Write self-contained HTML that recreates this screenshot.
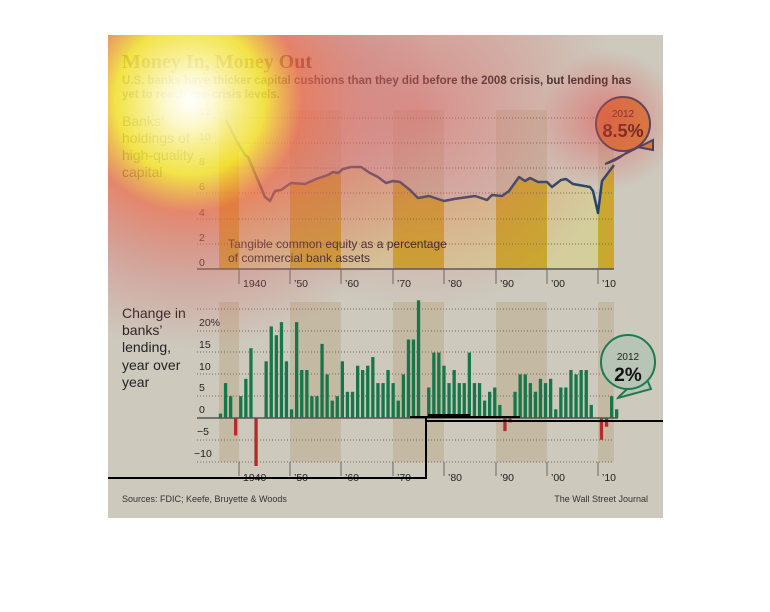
<!DOCTYPE html>
<html><head><meta charset="utf-8"><style>
html,body{margin:0;padding:0;background:#fff;}
svg{display:block;font-family:"Liberation Sans",sans-serif;}
</style></head><body>
<svg width="770" height="612" viewBox="0 0 770 612" xmlns="http://www.w3.org/2000/svg">
<defs>
<radialGradient id="hot" cx="190" cy="100" r="250" gradientUnits="userSpaceOnUse">
<stop offset="0" stop-color="#ffffff" stop-opacity="1"/>
<stop offset="0.1" stop-color="#fffbd0" stop-opacity="0.95"/>
<stop offset="0.3" stop-color="#f8e832" stop-opacity="0.85"/>
<stop offset="0.45" stop-color="#ee6a4a" stop-opacity="0.7"/>
<stop offset="0.75" stop-color="#d86a6a" stop-opacity="0.3"/>
<stop offset="1" stop-color="#d86a6a" stop-opacity="0"/>
</radialGradient>
<radialGradient id="hot2" cx="420" cy="110" r="200" gradientUnits="userSpaceOnUse">
<stop offset="0" stop-color="#e06060" stop-opacity="0.55"/>
<stop offset="1" stop-color="#e06060" stop-opacity="0"/>
</radialGradient>
<radialGradient id="hot3" cx="610" cy="120" r="70" gradientUnits="userSpaceOnUse">
<stop offset="0" stop-color="#e05050" stop-opacity="0.6"/>
<stop offset="1" stop-color="#e05050" stop-opacity="0"/>
</radialGradient>
</defs>
<rect x="108" y="35" width="555" height="483" fill="#cdc9bd"/>
<g fill="#c4bca8">
<rect x="219" y="110" width="20" height="159"/><rect x="290" y="110" width="51" height="159"/>
<rect x="393" y="110" width="51" height="159"/><rect x="496" y="110" width="51" height="159"/>
<rect x="598" y="110" width="16" height="159"/>
</g>
<clipPath id="under"><path d="M219,269 L219,118 226,120 236,140 245,155 248,157 265,197 270,201 275,191 281,190 291,183 305,184 316,179 328,175 333,172 338,173 343,169 351,167 361,167 370,173 378,177 386,183 393,181 400,182 410,190 418,198 429,196 444,201 454,199 475,196 487,200 492,195 502,196 509,191 519,177 525,181 530,178 538,182 547,182 552,187 561,180 566,179 573,184 590,187 593,191 598,213 602,181 608,173 614,165 614,269 Z"/></clipPath>
<g clip-path="url(#under)">
<rect x="219" y="110" width="400" height="160" fill="#d4cd9c"/>
<g fill="#c9a830">
<rect x="219" y="110" width="20" height="159"/><rect x="290" y="110" width="51" height="159"/>
<rect x="393" y="110" width="51" height="159"/><rect x="496" y="110" width="51" height="159"/>
<rect x="598" y="110" width="16" height="159"/>
</g></g>
<g stroke="#7a6a5a" stroke-width="1" stroke-dasharray="1,2">
<line x1="197" y1="118" x2="614" y2="118"/><line x1="197" y1="143" x2="614" y2="143"/>
<line x1="197" y1="168" x2="614" y2="168"/><line x1="197" y1="193" x2="614" y2="193"/>
<line x1="197" y1="219" x2="614" y2="219"/><line x1="197" y1="244" x2="614" y2="244"/>
</g>
<polyline fill="none" stroke="#23446a" stroke-width="2.5" stroke-linejoin="round" points="226,120 236,140 245,155 248,157 265,197 270,201 275,191 281,190 291,183 305,184 316,179 328,175 333,172 338,173 343,169 351,167 361,167 370,173 378,177 386,183 393,181 400,182 410,190 418,198 429,196 444,201 454,199 475,196 487,200 492,195 502,196 509,191 519,177 525,181 530,178 538,182 547,182 552,187 561,180 566,179 573,184 590,187 593,191 598,213 602,181 608,173 614,165"/>
<line x1="197" y1="269" x2="614" y2="269" stroke="#555" stroke-width="1.5"/>
<g stroke="#666" stroke-width="1"><line x1="239" y1="269" x2="239" y2="284"/><line x1="290" y1="269" x2="290" y2="284"/><line x1="341" y1="269" x2="341" y2="284"/><line x1="393" y1="269" x2="393" y2="284"/><line x1="444" y1="269" x2="444" y2="284"/><line x1="496" y1="269" x2="496" y2="284"/><line x1="547" y1="269" x2="547" y2="284"/><line x1="598" y1="269" x2="598" y2="284"/></g>
<g font-size="10.5" fill="#222">
<text x="243" y="287">1940</text><text x="294" y="287">’50</text><text x="345" y="287">’60</text><text x="397" y="287">’70</text><text x="448" y="287">’80</text><text x="500" y="287">’90</text><text x="551" y="287">’00</text><text x="602" y="287">’10</text>
<text x="199" y="266">0</text><text x="199" y="241">2</text><text x="199" y="216">4</text><text x="199" y="190">6</text><text x="199" y="165">8</text><text x="199" y="140">10</text><text x="199" y="115">12</text>
</g>
<text x="228" y="248" font-size="12" fill="#222">Tangible common equity as a percentage</text>
<text x="228" y="262" font-size="12" fill="#222">of commercial bank assets</text>
<g fill="#c4b9a2">
<rect x="219" y="302" width="20" height="160"/><rect x="290" y="302" width="51" height="160"/>
<rect x="393" y="302" width="51" height="160"/><rect x="496" y="302" width="51" height="160"/>
<rect x="598" y="302" width="16" height="160"/>
</g>
<g stroke="#7a6a5a" stroke-width="1" stroke-dasharray="1,2">
<line x1="197" y1="309" x2="614" y2="309"/><line x1="197" y1="331" x2="614" y2="331"/>
<line x1="197" y1="352" x2="614" y2="352"/><line x1="197" y1="374" x2="614" y2="374"/>
<line x1="197" y1="396" x2="614" y2="396"/><line x1="197" y1="440" x2="614" y2="440"/>
<line x1="197" y1="462" x2="614" y2="462"/>
</g>
<g fill="#16774a">
<rect x="218.8" y="413.6" width="3.3" height="4.4"/>
<rect x="223.9" y="383.1" width="3.3" height="34.9"/>
<rect x="229.0" y="396.2" width="3.3" height="21.8"/>
<rect x="239.1" y="396.2" width="3.3" height="21.8"/>
<rect x="244.2" y="378.8" width="3.3" height="39.2"/>
<rect x="249.3" y="348.2" width="3.3" height="69.8"/>
<rect x="264.5" y="361.3" width="3.3" height="56.7"/>
<rect x="269.6" y="326.4" width="3.3" height="91.6"/>
<rect x="274.7" y="335.2" width="3.3" height="82.8"/>
<rect x="279.8" y="322.1" width="3.3" height="95.9"/>
<rect x="284.8" y="361.3" width="3.3" height="56.7"/>
<rect x="289.9" y="409.3" width="3.3" height="8.7"/>
<rect x="295.0" y="322.1" width="3.3" height="95.9"/>
<rect x="300.1" y="370.0" width="3.3" height="48.0"/>
<rect x="305.2" y="370.0" width="3.3" height="48.0"/>
<rect x="310.2" y="396.2" width="3.3" height="21.8"/>
<rect x="315.3" y="396.2" width="3.3" height="21.8"/>
<rect x="320.4" y="343.9" width="3.3" height="74.1"/>
<rect x="325.5" y="374.4" width="3.3" height="43.6"/>
<rect x="330.6" y="400.6" width="3.3" height="17.4"/>
<rect x="335.6" y="396.2" width="3.3" height="21.8"/>
<rect x="340.7" y="361.3" width="3.3" height="56.7"/>
<rect x="345.8" y="391.8" width="3.3" height="26.2"/>
<rect x="350.9" y="391.8" width="3.3" height="26.2"/>
<rect x="356.0" y="365.7" width="3.3" height="52.3"/>
<rect x="361.0" y="370.0" width="3.3" height="48.0"/>
<rect x="366.1" y="365.7" width="3.3" height="52.3"/>
<rect x="371.2" y="357.0" width="3.3" height="61.0"/>
<rect x="376.3" y="383.1" width="3.3" height="34.9"/>
<rect x="381.4" y="383.1" width="3.3" height="34.9"/>
<rect x="386.4" y="370.0" width="3.3" height="48.0"/>
<rect x="391.5" y="383.1" width="3.3" height="34.9"/>
<rect x="396.6" y="400.6" width="3.3" height="17.4"/>
<rect x="401.7" y="374.4" width="3.3" height="43.6"/>
<rect x="406.8" y="339.5" width="3.3" height="78.5"/>
<rect x="411.8" y="339.5" width="3.3" height="78.5"/>
<rect x="416.9" y="300.3" width="3.3" height="117.7"/>
<rect x="427.1" y="387.5" width="3.3" height="30.5"/>
<rect x="432.2" y="352.6" width="3.3" height="65.4"/>
<rect x="437.2" y="352.6" width="3.3" height="65.4"/>
<rect x="442.3" y="365.7" width="3.3" height="52.3"/>
<rect x="447.4" y="383.1" width="3.3" height="34.9"/>
<rect x="452.5" y="370.0" width="3.3" height="48.0"/>
<rect x="457.6" y="383.1" width="3.3" height="34.9"/>
<rect x="462.6" y="383.1" width="3.3" height="34.9"/>
<rect x="467.7" y="352.6" width="3.3" height="65.4"/>
<rect x="472.8" y="383.1" width="3.3" height="34.9"/>
<rect x="477.9" y="383.1" width="3.3" height="34.9"/>
<rect x="483.0" y="400.6" width="3.3" height="17.4"/>
<rect x="488.0" y="391.8" width="3.3" height="26.2"/>
<rect x="493.1" y="387.5" width="3.3" height="30.5"/>
<rect x="498.2" y="404.9" width="3.3" height="13.1"/>
<rect x="513.4" y="391.8" width="3.3" height="26.2"/>
<rect x="518.5" y="374.4" width="3.3" height="43.6"/>
<rect x="523.6" y="374.4" width="3.3" height="43.6"/>
<rect x="528.7" y="383.1" width="3.3" height="34.9"/>
<rect x="533.8" y="391.8" width="3.3" height="26.2"/>
<rect x="538.8" y="378.8" width="3.3" height="39.2"/>
<rect x="543.9" y="383.1" width="3.3" height="34.9"/>
<rect x="549.0" y="378.8" width="3.3" height="39.2"/>
<rect x="554.1" y="409.3" width="3.3" height="8.7"/>
<rect x="559.2" y="387.5" width="3.3" height="30.5"/>
<rect x="564.2" y="387.5" width="3.3" height="30.5"/>
<rect x="569.3" y="370.0" width="3.3" height="48.0"/>
<rect x="574.4" y="374.4" width="3.3" height="43.6"/>
<rect x="579.5" y="370.0" width="3.3" height="48.0"/>
<rect x="584.6" y="370.0" width="3.3" height="48.0"/>
<rect x="589.6" y="404.9" width="3.3" height="13.1"/>
<rect x="610.0" y="396.2" width="3.3" height="21.8"/>
<rect x="615.0" y="409.3" width="3.3" height="8.7"/>
</g>
<g fill="#b52a2a">
<rect x="234.0" y="418" width="3.3" height="17.4"/>
<rect x="254.4" y="418" width="3.3" height="48"/>
<rect x="503.3" y="418" width="3.3" height="13.1"/>
<rect x="508.4" y="418" width="3.3" height="4.4"/>
<rect x="599.8" y="418" width="3.3" height="21.8"/>
<rect x="604.9" y="418" width="3.3" height="8.7"/>
</g>
<line x1="197" y1="418" x2="618" y2="418" stroke="#555" stroke-width="1.5"/>
<g stroke="#666" stroke-width="1"><line x1="239" y1="462" x2="239" y2="476"/><line x1="290" y1="462" x2="290" y2="476"/><line x1="341" y1="462" x2="341" y2="476"/><line x1="393" y1="462" x2="393" y2="476"/><line x1="444" y1="462" x2="444" y2="476"/><line x1="496" y1="462" x2="496" y2="476"/><line x1="547" y1="462" x2="547" y2="476"/><line x1="598" y1="462" x2="598" y2="476"/></g>
<g font-size="10.5" fill="#222">
<text x="243" y="481">1940</text><text x="294" y="481">’50</text><text x="345" y="481">’60</text><text x="397" y="481">’70</text><text x="448" y="481">’80</text><text x="500" y="481">’90</text><text x="551" y="481">’00</text><text x="602" y="481">’10</text>
<text x="199" y="326">20%</text><text x="199" y="348">15</text><text x="199" y="370">10</text><text x="199" y="391">5</text><text x="199" y="413">0</text><text x="197" y="435">−5</text><text x="194" y="457">−10</text>
</g>
<g font-size="14" fill="#222">
<text x="122" y="318">Change in</text><text x="122" y="335">banks’</text><text x="122" y="352">lending,</text><text x="122" y="370">year over</text><text x="122" y="387">year</text>
</g>
<text x="122" y="502" font-size="9" fill="#333">Sources: FDIC; Keefe, Bruyette &amp; Woods</text>
<text x="648" y="502" font-size="9" fill="#333" text-anchor="end">The Wall Street Journal</text>
<path d="M618,398 C620,394 640,380 644,372 L651,389 Z" fill="#b8c4b6" stroke="#1e7a4f" stroke-width="2"/>
<circle cx="628" cy="362" r="27" fill="#b8c4b6" stroke="#1e7a4f" stroke-width="2"/>
<text x="628" y="360" font-size="10" text-anchor="middle" fill="#222">2012</text>
<text x="628" y="381" font-size="19" font-weight="bold" text-anchor="middle" fill="#111">2%</text>
<g stroke="#000" fill="none">
<polyline points="108,478 426,478 426,418" stroke-width="2"/>
<line x1="426" y1="421" x2="663" y2="421" stroke-width="2"/>
<line x1="410" y1="417" x2="520" y2="417" stroke-width="2"/>
<line x1="428" y1="415" x2="470" y2="415" stroke-width="2"/>
</g>
<text x="122" y="68" font-family="Liberation Serif,serif" font-size="20" font-weight="bold" fill="#5a2418">Money In, Money Out</text>
<text x="122" y="84" font-size="11.5" font-weight="bold" fill="#2a2a2a">U.S. banks have thicker capital cushions than they did before the 2008 crisis, but lending has</text>
<text x="122" y="98" font-size="11.5" font-weight="bold" fill="#2a2a2a">yet to reach pre-crisis levels.</text>
<g font-size="14" fill="#222"><text x="122" y="126">Banks’</text><text x="122" y="143">holdings of</text><text x="122" y="160">high-quality</text><text x="122" y="177">capital</text></g>
<path d="M605,164 C620,160 630,150 632,146 L653,150 L653,140 Z" fill="#d4853a" stroke="#2e3c62" stroke-width="2"/>
<circle cx="623" cy="124" r="27" fill="#d4853a" stroke="#2e3c62" stroke-width="2"/>
<text x="623" y="117" font-size="10" text-anchor="middle" fill="#3a1a10">2012</text>
<text x="623" y="137" font-size="18" font-weight="bold" text-anchor="middle" fill="#3a1010">8.5%</text>
<rect x="108" y="35" width="555" height="483" fill="url(#hot2)"/>
<rect x="108" y="35" width="555" height="483" fill="url(#hot3)"/>
<rect x="108" y="35" width="555" height="483" fill="url(#hot)"/>
</svg>
</body></html>
